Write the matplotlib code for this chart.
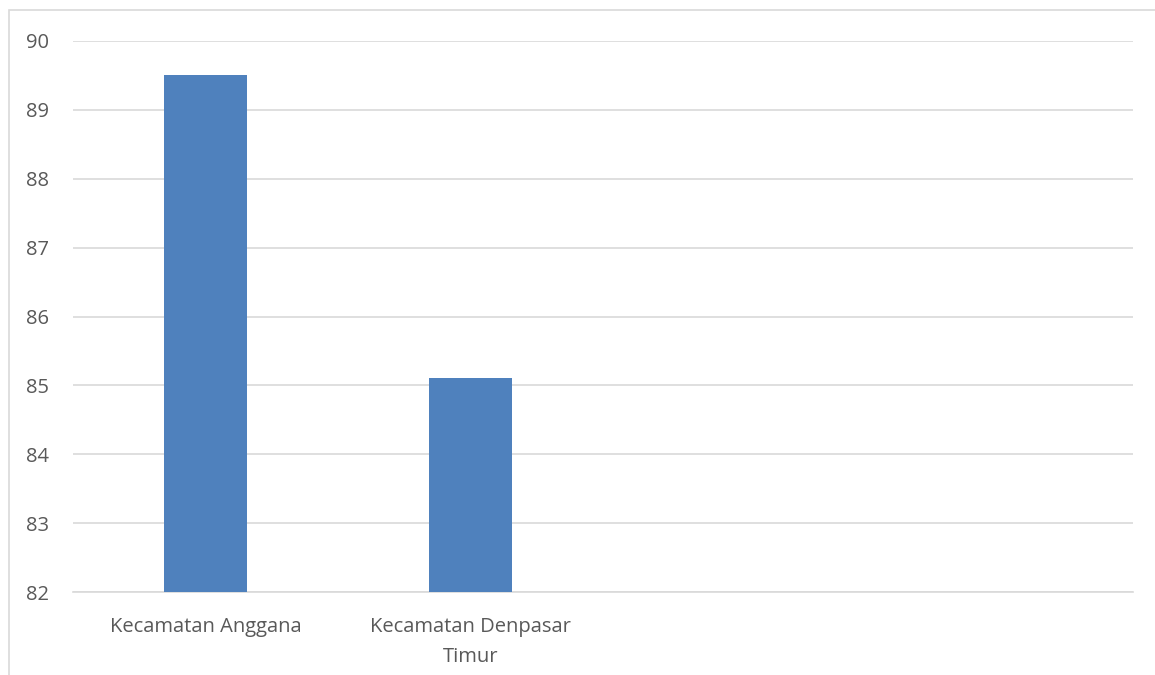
import numpy as np
import matplotlib.pyplot as plt
from matplotlib.patches import Rectangle

# data
categories = ["Kecamatan Anggana", "Kecamatan Denpasar\nTimur", "", ""]
values = [89.5, 85.1, np.nan, np.nan]
y_ticks = [82, 83, 84, 85, 86, 87, 88, 89, 90]

bar_color = "#4f81bd"
text_color = "#595959"
grid_color = "#d9d9d9"

plt.rcParams["font.family"] = ["Open Sans", "DejaVu Sans"]

fig = plt.figure(figsize=(11.55, 6.75), dpi=100)
ax = fig.add_axes([73 / 1155, 83 / 675, 1060 / 1155, 551 / 675])

# outer chart frame (runs off the right and bottom edges)
fig.patches.append(Rectangle((9 / 1155, -0.1), 1.2, (675 - 10) / 675 + 0.1,
                             transform=fig.transFigure, fill=False,
                             edgecolor=grid_color, linewidth=1.2))

x = np.arange(len(categories))
ax.bar(x, values, width=0.313, color=bar_color, zorder=3)

ax.set_xlim(-0.5, len(categories) - 0.5)
ax.set_ylim(82, 90)
ax.set_yticks(y_ticks)
ax.set_xticks(x)
ax.set_xticklabels(categories, fontsize=14.5, color=text_color, linespacing=1.65)
ax.tick_params(axis="y", labelsize=14.5, labelcolor=text_color, length=0, pad=17)
ax.tick_params(axis="x", length=0, pad=18)

ax.grid(axis="y", color=grid_color, linewidth=1.2, zorder=0)
for side in ["top", "right", "left"]:
    ax.spines[side].set_visible(False)
ax.spines["bottom"].set_color(grid_color)
ax.spines["bottom"].set_linewidth(1.2)

fig.savefig("out.png", dpi=100)
